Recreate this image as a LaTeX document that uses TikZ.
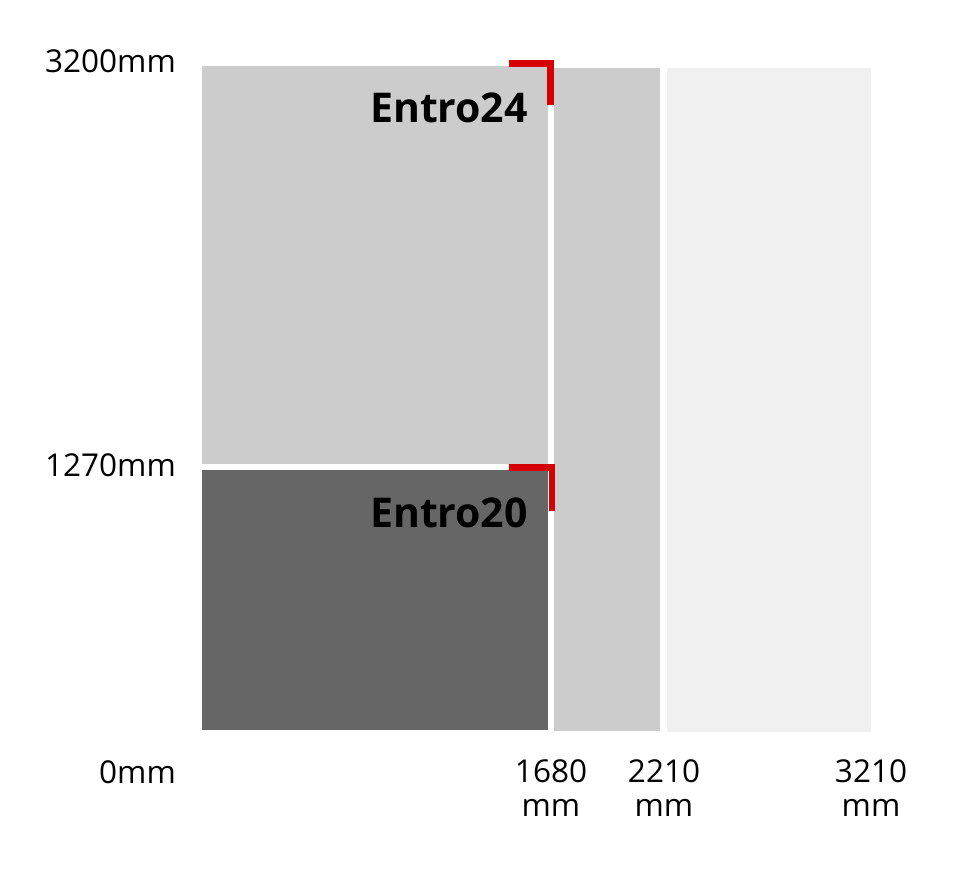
\documentclass[tikz,border=0pt]{standalone}
\usepackage{fontspec}
\setmainfont{Open Sans}
\usepackage{tikz}
\usetikzlibrary{positioning}
\definecolor{panelgray}{HTML}{CCCCCC}
\definecolor{darkpanel}{HTML}{666666}
\definecolor{palepanel}{HTML}{F0F0F0}
\definecolor{markred}{HTML}{D60000}

\begin{document}
\begin{tikzpicture}[x=1pt,y=-1pt,
  sizelabel/.style={font=\fontsize{31.5}{34}\selectfont, inner sep=0pt},
  widthlabel/.style={font=\fontsize{31.5}{34}\selectfont, inner sep=0pt, align=center},
  modellabel/.style={font=\fontsize{41}{44}\selectfont\bfseries, inner sep=0pt, anchor=base east},
  cornermark/.style={draw=markred, line width=6.5pt, miter limit=10}]
\useasboundingbox (0,0) rectangle (954,879);

% Panels
\fill[panelgray] (202,66) rectangle (548,464);
\fill[darkpanel] (202,470) rectangle (548,730);
\fill[panelgray] (554,68) rectangle (660,731);
\fill[palepanel] (667,68) rectangle (871,732);

% Corner marks
\draw[cornermark] (509,63.5) -- (550.5,63.5) -- (550.5,105);
\draw[cornermark] (509,467.5) -- (552,467.5) -- (552,511);

% Model names
\node[modellabel] (entro24) at (528,122) {Entro24};
\node[modellabel] (entro20) at (528,527) {Entro20};

% Heights
\node[sizelabel, anchor=east] (h3200) at (176,61) {3200mm};
\node[sizelabel, anchor=east] (h1270) at (176,465) {1270mm};
\node[sizelabel, anchor=east] (h0) at (176,772) {0mm};

% Widths
\node[widthlabel, anchor=north] (w1680) at (551,759) {1680\\mm};
\node[widthlabel, anchor=north] (w2210) at (664,759) {2210\\mm};
\node[widthlabel, anchor=north] (w3210) at (871,759) {3210\\mm};
\end{tikzpicture}
\end{document}
